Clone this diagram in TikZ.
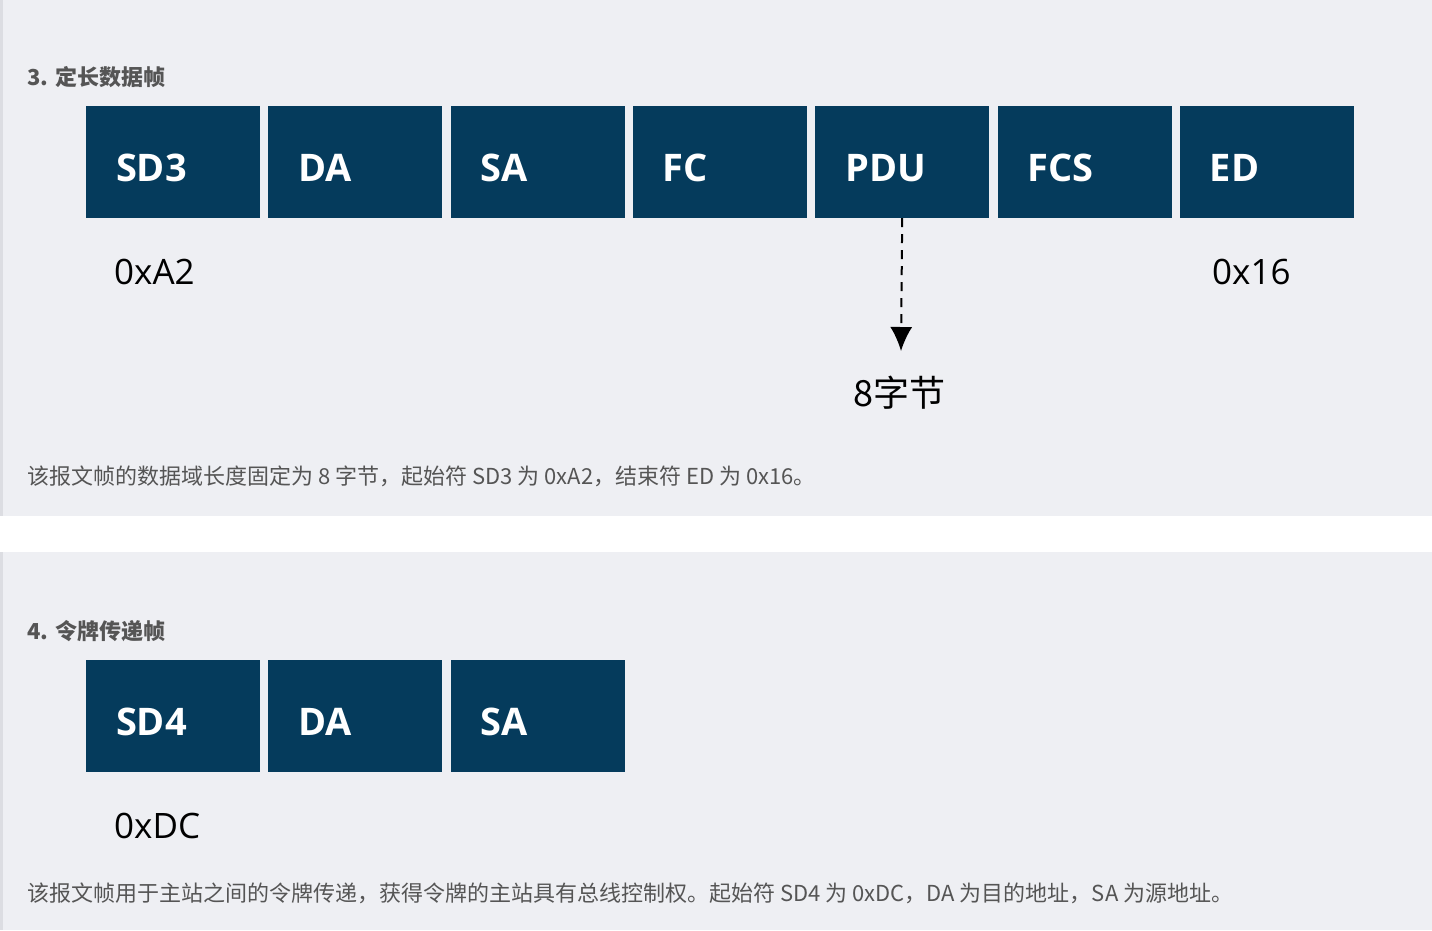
\documentclass[tikz,border=0pt]{standalone}
\usepackage{fontspec}
\setmainfont{Open Sans}
\newfontfamily\cjk{Noto Sans CJK SC}
\usetikzlibrary{positioning,arrows.meta}
\definecolor{panelbg}{HTML}{EEEFF3}
\definecolor{panelbar}{HTML}{DCDDE2}
\definecolor{fieldblue}{HTML}{053B5C}
\definecolor{captiongray}{HTML}{555555}
\tikzset{>=latex}
\newcommand{\fieldrow}[3]{%
  \foreach \lbl [count=\i from 0] in {#3} {
    \node[field, minimum width=174pt, minimum height=112pt] (#1-\i) at ({86+87+182.3*\i},#2) {};
    \node[fieldtext, anchor=base west] at ([xshift=30pt,yshift=-19pt]#1-\i.west) {\lbl};
  }}

\begin{document}
\begin{tikzpicture}[x=1pt, y=-1pt,
    field/.style = {rectangle, fill=fieldblue, inner sep=0pt},
    fieldtext/.style = {text=white, font=\fontsize{38}{44}\selectfont\bfseries, inner sep=0pt},
    hexval/.style = {font=\fontsize{35}{42}\selectfont, inner sep=0pt, anchor=base west},
    heading/.style = {font=\cjk\fontsize{22}{26}\selectfont\bfseries, text=captiongray, inner sep=0pt, anchor=base west},
    caption/.style = {font=\cjk\fontsize{22}{26}\selectfont, text=captiongray, inner sep=0pt, anchor=base west}]
  % panels
  \useasboundingbox (0,0) rectangle (1432,930);
  \fill[white] (0,0) rectangle (1432,930);
  \fill[panelbg] (0,0) rectangle (1432,516);
  \fill[panelbg] (0,552) rectangle (1432,930);
  \fill[panelbar] (0,0) rectangle (3,516);
  \fill[panelbar] (0,552) rectangle (3,930);

  % fixed-length frame
  \node[heading] (head3) at (27,85) {3. 定长数据帧};
  \fieldrow{top}{162}{SD3,DA,SA,FC,PDU,FCS,ED}
  \node[hexval] (sdval) at (114,284) {0xA2};
  \node[hexval] (edval) at (1212,284) {0x16};
  \node[font=\cjk\fontsize{36}{42}\selectfont, inner sep=0pt, anchor=north] (pdulen) at (899,376) {8字节};
  \draw[-{Latex[length=24pt,width=22pt]}, line width=2pt, dash pattern=on 9pt off 7pt] (top-4.south) -- (901,351) coordinate (tip);
  \node[caption] (cap3) at (27,484) {该报文帧的数据域长度固定为 8 字节，起始符 SD3 为 0xA2，结束符 ED 为 0x16。};

  % token frame
  \node[heading] (head4) at (27,639) {4. 令牌传递帧};
  \fieldrow{tok}{716}{SD4,DA,SA}
  \node[hexval] (tokval) at (114,838) {0xDC};
  \node[caption] (cap4) at (27,901) {该报文帧用于主站之间的令牌传递，获得令牌的主站具有总线控制权。起始符 SD4 为 0xDC，DA 为目的地址，SA 为源地址。};
\end{tikzpicture}
\end{document}
